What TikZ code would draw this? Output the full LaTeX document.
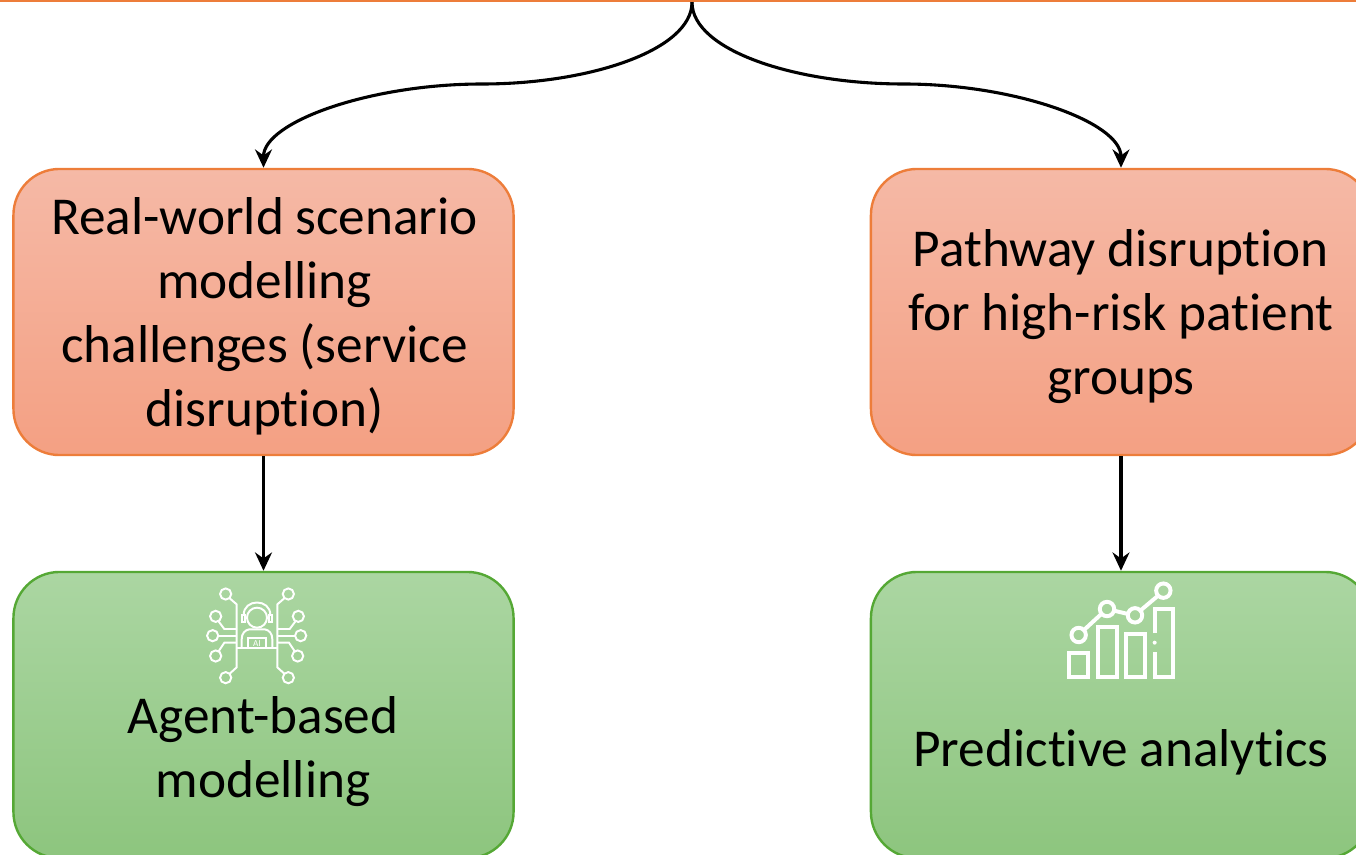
\documentclass[tikz,border=0pt]{standalone}
\usepackage{fontspec}
\setmainfont{Carlito}[RawFeature={-liga;-clig}, WordSpace=0.95]
\usetikzlibrary{arrows.meta}
\tikzset{
  boxbase/.style={draw, line width=1.7pt, rounded corners=1.15cm, minimum width=12.5cm, minimum height=7.15cm},
  orangebox/.style={boxbase, draw=boxorange, top color=orangetop, bottom color=orangebot},
  greenbox/.style={boxbase, draw=boxgreen, top color=greentop, bottom color=greenbot},
  boxtext/.style={align=center, font=\fontsize{37.9}{45.5}\selectfont},
  flow/.style={-{Stealth[length=13pt,width=12pt]}, line width=2.2pt},
  iconline/.style={draw=white, line width=1.4pt},
  chartline/.style={draw=white, line width=2.8pt}
}
\definecolor{boxorange}{HTML}{ED7D3A}
\definecolor{orangetop}{HTML}{F5B9A6}
\definecolor{orangebot}{HTML}{F4A083}
\definecolor{boxgreen}{HTML}{55A835}
\definecolor{greentop}{HTML}{ABD6A2}
\definecolor{greenbot}{HTML}{8DC57E}
\begin{document}
\begin{tikzpicture}[x=0.025cm, y=-0.025cm]
  \useasboundingbox (0,0) rectangle (1356,855);
  \clip (0,0) rectangle (1356,855);

  \node[draw=boxorange, line width=1.7pt, minimum width=40cm, minimum height=5cm] (root) at (692,-99) {};

  \node[orangebox] (scenario) at (263.5,312) {};
  \node[orangebox] (pathway) at (1121,312) {};
  \node[greenbox] (agent) at (263.5,715) {};
  \node[greenbox] (predict) at (1121,715) {};
  \node[boxtext] (scenariotext) at (264.5,316.5) {Real-world scenario\\modelling\\challenges (service\\disruption)};
  \node[boxtext] (pathwaytext) at (1121,316.5) {Pathway disruption\\for high-risk patient\\groups};
  \node[boxtext] (agenttext) at (263,752) {Agent-based\\modelling};
  \node[boxtext] (predicttext) at (1121,752) {Predictive analytics};

  \coordinate (bendl) at (482,84);
  \coordinate (bendr) at (904,84);
  \draw[flow] (root.south) .. controls (692,50) and (590,84) .. (bendl)
    .. controls (370,84) and (263.5,122) .. (scenario.north);
  \draw[flow] (root.south) .. controls (692,50) and (794,84) .. (bendr)
    .. controls (1014,84) and (1121,122) .. (pathway.north);
  \draw[flow] (scenario.south) -- (agent.north);
  \draw[flow] (pathway.south) -- (predict.north);

  % agent icon
  \begin{scope}[shift={(190,570)}, x=0.025cm/3, y=-0.025cm/3]
    \foreach \cx/\cy in {107/72, 295/72, 77/139, 325/139, 68/197, 332/197, 77/258, 323/258, 107/323, 295/323}
      \draw[iconline] (\cx,\cy) circle (0.14cm);
    \draw[iconline] (118,84) -- (140,103) -- (140,292) -- (118,312);
    \draw[iconline] (284,84) -- (262,103) -- (262,292) -- (284,312);
    \draw[iconline] (140,235) -- (262,235);
    \draw[iconline] (85,153) -- (103,177) -- (140,177);
    \draw[iconline] (317,153) -- (299,177) -- (262,177);
    \draw[iconline] (84,197) -- (140,197);
    \draw[iconline] (316,197) -- (262,197);
    \draw[iconline] (85,245) -- (103,218) -- (140,218);
    \draw[iconline] (315,245) -- (297,218) -- (262,218);
    \draw[iconline] (201,143) circle (0.25cm);
    \draw[iconline] (161,135) .. controls (161,85) and (241,85) .. (241,135);
    \draw[iconline] (156,135) rectangle (165,155);
    \draw[iconline] (237,135) rectangle (246,155);
    \draw[iconline] (155,235) -- (155,208) .. controls (155,190) and (165,180) .. (178,178)
      -- (224,178) .. controls (237,180) and (247,190) .. (247,208) -- (247,235);
    \draw[iconline] (175,205) rectangle (227,235);
    \node[text=white, inner sep=0pt, font=\fontsize{6.5}{7}\selectfont] (ailabel) at (201,221) {AI};
  \end{scope}

  % chart icon
  \begin{scope}[shift={(1050,570)}, x=0.025cm/3, y=-0.025cm/3]
    \draw[chartline] (58,250) rectangle (114,322);
    \draw[chartline] (143,172) rectangle (200,322);
    \draw[chartline] (228,192) rectangle (285,322);
    \draw[chartline] (314,190) -- (314,117) -- (368,117) -- (368,322) -- (314,322) -- (314,245);
    \fill[white] (314,218) circle (0.05cm);
    \draw[chartline] (86,195) circle (0.18cm);
    \draw[chartline] (171,117) circle (0.18cm);
    \draw[chartline] (255,136) circle (0.18cm);
    \draw[chartline] (340,62) circle (0.18cm);
    \draw[chartline] (103,179) -- (154,132);
    \draw[chartline] (192,122) -- (234,132);
    \draw[chartline] (272,121) -- (323,78);
  \end{scope}
\end{tikzpicture}
\end{document}
